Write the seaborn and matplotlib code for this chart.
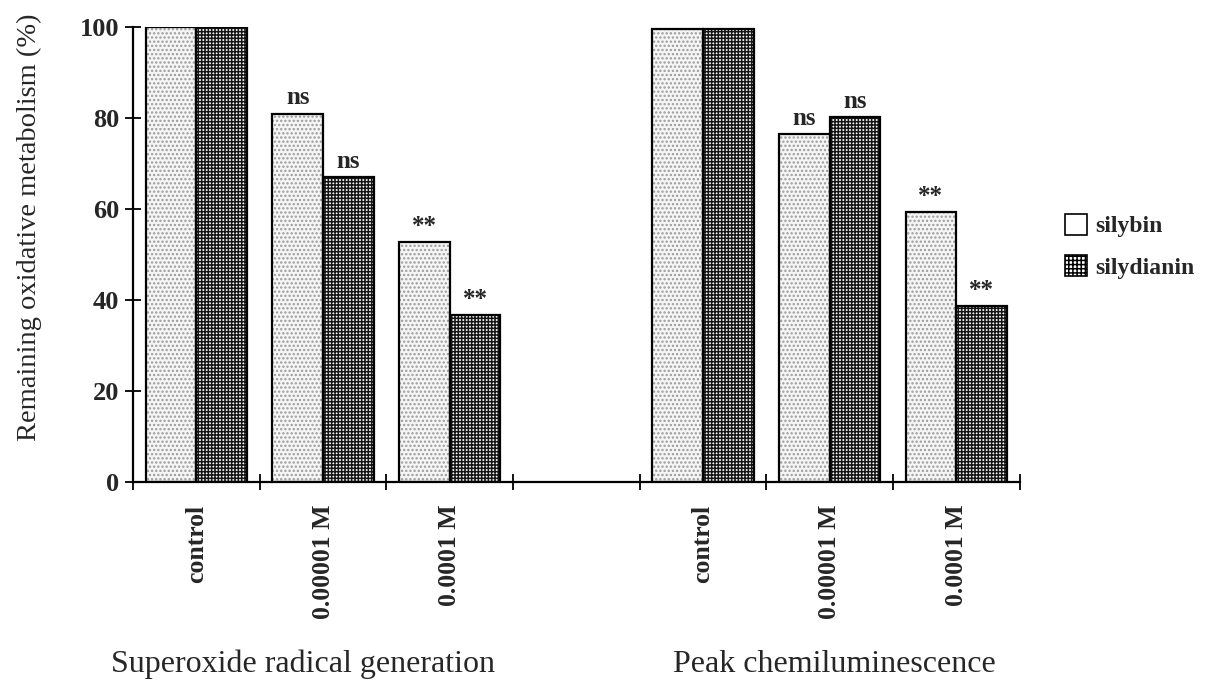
import matplotlib
matplotlib.use("Agg")
import matplotlib.pyplot as plt
import seaborn as sns
import pandas as pd
from matplotlib.patches import Patch

# ---- data ----
slots = ["SO_control", "SO_1e-5", "SO_1e-4", "gap", "PC_control", "PC_1e-5", "PC_1e-4"]
slot_labels = ["control", "0.00001 M", "0.0001 M", "", "control", "0.00001 M", "0.0001 M"]
data_slots = ["SO_control", "SO_1e-5", "SO_1e-4", "PC_control", "PC_1e-5", "PC_1e-4"]
silybin = [100, 81, 52.7, 99.5, 76.5, 59.3]
silydianin = [100, 67, 36.7, 99.5, 80.2, 38.7]
silybin_marks = ["", "ns", "**", "", "ns", "**"]
silydianin_marks = ["", "ns", "**", "", "ns", "**"]
compounds = ["silybin", "silydianin"]
group_titles = ["Superoxide radical generation", "Peak chemiluminescence"]
ylabel = "Remaining oxidative metabolism (%)"
yticks = [0, 20, 40, 60, 80, 100]

df = pd.DataFrame({
    "slot": data_slots * 2,
    "compound": ["silybin"] * 6 + ["silydianin"] * 6,
    "value": silybin + silydianin,
})

sns.set_theme(style="white")
plt.rcParams["font.family"] = ["Liberation Serif", "DejaVu Serif"]
plt.rcParams["hatch.linewidth"] = 1.1

fig = plt.figure(figsize=(12.24, 6.84), dpi=100)
ax = fig.add_axes([0.1087, 0.295, 0.7243, 0.6655])

styles = {
    "silybin": dict(face="#f5f5f5", hatch="....", hcol="#9a9a9a"),
    "silydianin": dict(face="#ffffff", hatch="+++++", hcol="#151515"),
}

sns.barplot(data=df, x="slot", y="value", hue="compound", order=slots,
            hue_order=compounds, palette=["#f5f5f5", "#ffffff"], width=0.8,
            legend=False, ax=ax, linewidth=0, saturation=1)
for cont, comp in zip(ax.containers, compounds):
    st = styles[comp]
    for p in cont.patches:
        p.set_facecolor(st["face"])
        p.set_hatch(st["hatch"])
        p.set_edgecolor(st["hcol"])
        p.set_linewidth(0)

# outlines
sns.barplot(data=df, x="slot", y="value", hue="compound", order=slots,
            hue_order=compounds, palette=["black", "black"], width=0.8,
            fill=False, legend=False, ax=ax, linewidth=1.6)

# annotations
for cont, marks in zip(ax.containers[:2], [silybin_marks, silydianin_marks]):
    ax.bar_label(cont, labels=marks, padding=3, fontsize=18, fontweight="bold")

ax.set_ylim(0, 100)
ax.set_xlim(-0.5, len(slots) - 0.5)
ax.set_yticks(yticks)
ax.set_yticklabels([str(t) for t in yticks], fontsize=19, fontweight="bold")
ax.set_xticks(range(len(slots)))
ax.set_xticklabels(slot_labels, rotation=90, fontsize=18.5, fontweight="bold")
ax.set_xticks([i - 0.5 for i in range(len(slots) + 1)], minor=True)
ax.tick_params(axis="x", which="major", length=0, pad=16, bottom=True)
ax.tick_params(axis="x", which="minor", direction="inout", length=12, width=1.3,
               color="black", bottom=True)
ax.tick_params(axis="y", which="major", direction="inout", length=12, width=1.3,
               color="black", pad=4, left=True)
ax.set_xlabel("")
ax.set_ylabel(ylabel, fontsize=20.5)
ax.yaxis.set_label_coords(-0.103, 0.56)

for s in ["top", "right"]:
    ax.spines[s].set_visible(False)
for s in ["left", "bottom"]:
    ax.spines[s].set_color("black")
    ax.spines[s].set_linewidth(1.6)

# group titles
ax.text(0.84, -0.40, group_titles[0], transform=ax.get_xaxis_transform(),
        ha="center", va="center", fontsize=23)
ax.text(5.04, -0.40, group_titles[1], transform=ax.get_xaxis_transform(),
        ha="center", va="center", fontsize=23)

handles = [Patch(facecolor="white", edgecolor="black", linewidth=1.2),
           Patch(facecolor="white", hatch="++++", edgecolor="black", linewidth=1.2)]
fig.legend(handles, compounds, loc="center left", bbox_to_anchor=(0.853, 0.64),
           frameon=False, prop=dict(family="Liberation Serif", weight="bold", size=17),
           handlelength=0.9, handleheight=1.0, labelspacing=0.75, handletextpad=0.35)

fig.savefig("out.png", dpi=100)
